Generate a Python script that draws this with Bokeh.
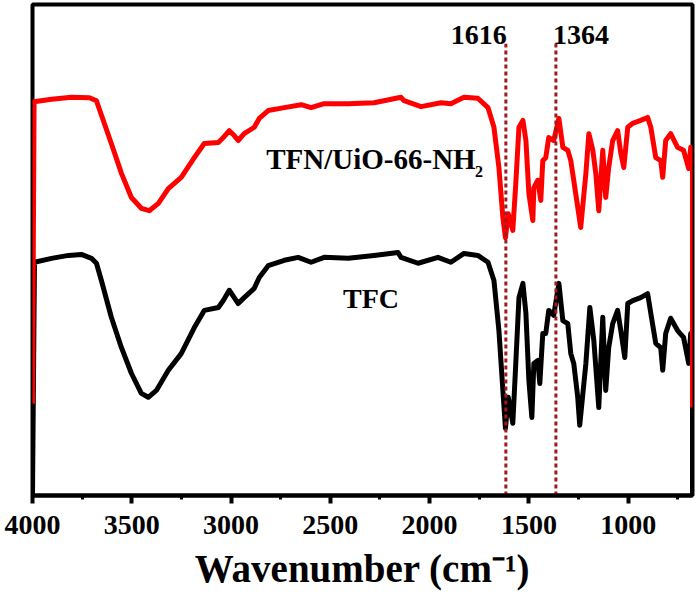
from bokeh.plotting import figure
from bokeh.models import Label, Range1d, FixedTicker
from bokeh.embed import file_html
from bokeh.resources import INLINE

# ---------------- data ----------------
wavenumber_tfn = [4000, 3992, 3904, 3804, 3713, 3678, 3603, 3552, 3502, 3452, 3412, 3366, 3316, 3251,
                  3185, 3135, 3064, 3039, 3009, 2984, 2964, 2934, 2883, 2858, 2813, 2732, 2647, 2597,
                  2531, 2410, 2280, 2144, 2129, 2043, 1943, 1893, 1827, 1757, 1706, 1676, 1651, 1631,
                  1618, 1604, 1581, 1566, 1550, 1530, 1515, 1500, 1480, 1475, 1455, 1440, 1430, 1415,
                  1400, 1375, 1349, 1329, 1304, 1289, 1274, 1254, 1239, 1213, 1198, 1178, 1163, 1148,
                  1128, 1113, 1098, 1078, 1053, 1037, 1022, 1002, 977, 937, 902, 886, 861, 836, 826,
                  811, 786, 751, 721, 695, 685, 676, 676]
transmittance_tfn = [18.7, 80.2, 80.7, 81.1, 81.0, 80.4, 71.7, 65.6, 60.7, 58.5, 58.0, 59.5, 62.5, 64.8,
                     68.8, 71.7, 71.9, 72.9, 74.3, 73.3, 72.3, 73.7, 75.0, 76.8, 78.4, 79.0, 79.6, 79.0,
                     79.8, 79.8, 80.0, 81.1, 80.4, 79.2, 80.0, 79.8, 81.1, 80.9, 79.0, 75.0, 66.8, 56.6,
                     52.5, 57.4, 54.0, 63.5, 75.0, 76.4, 72.3, 61.5, 56.0, 62.7, 64.2, 60.1, 68.2, 68.8,
                     72.9, 72.3, 76.8, 70.9, 70.3, 68.2, 64.2, 58.7, 54.6, 65.6, 73.7, 70.3, 65.6, 58.0,
                     70.3, 60.7, 66.8, 72.3, 74.3, 69.7, 66.8, 75.0, 75.8, 76.4, 77.0, 75.0, 68.8, 68.2, 64.8,
                     72.3, 73.7, 70.9, 70.3, 66.6, 70.9, 70.3, 17.9]

wavenumber_tfc = [4000, 3990, 3904, 3819, 3754, 3703, 3678, 3653, 3603, 3552, 3502, 3452, 3417, 3376,
                  3316, 3251, 3185, 3135, 3064, 3039, 3009, 2984, 2964, 2934, 2883, 2858, 2813, 2732,
                  2662, 2597, 2531, 2410, 2280, 2159, 2144, 2058, 1958, 1893, 1827, 1757, 1706, 1676,
                  1651, 1631, 1618, 1604, 1581, 1566, 1550, 1530, 1515, 1500, 1485, 1475, 1455, 1445,
                  1430, 1415, 1400, 1375, 1349, 1329, 1304, 1289, 1274, 1254, 1244, 1213, 1193, 1173,
                  1158, 1148, 1128, 1113, 1098, 1078, 1053, 1037, 1017, 1002, 977, 937, 902, 886, 861,
                  836, 826, 811, 786, 751, 721, 695, 685, 676, 676]
transmittance_tfc = [0, 47.5, 48.3, 48.9, 49.1, 48.3, 47.3, 43.8, 36.3, 30.1, 24.9, 20.8, 20.0, 21.4,
                     25.5, 28.9, 34.2, 37.7, 38.3, 39.7, 41.8, 40.3, 39.1, 40.3, 42.2, 44.4, 46.8, 47.9,
                     48.5, 47.5, 48.5, 48.3, 48.9, 49.5, 48.5, 47.3, 48.5, 47.5, 49.3, 48.9, 47.5, 43.8,
                     33.6, 21.4, 13.7, 20.0, 14.7, 26.9, 40.3, 43.2, 37.1, 23.4, 15.9, 26.9, 27.5, 22.8,
                     33.0, 33.0, 37.7, 36.7, 43.2, 35.6, 35.0, 28.9, 26.9, 20.0, 14.3, 26.9, 38.3, 31.6,
                     23.4, 17.9, 36.3, 21.4, 30.1, 35.0, 37.7, 33.6, 28.1, 39.1, 39.7, 40.3, 41.1, 37.1, 31.0,
                     30.1, 25.5, 33.0, 36.1, 33.6, 32.2, 26.9, 33.0, 32.2, 0]

peak_positions = [1616, 1364]
peak_labels = ["1616", "1364"]
peak_line_top = 92
x_ticks = [4000, 3500, 3000, 2500, 2000, 1500, 1000]
x_minor_ticks = [3750, 3250, 2750, 2250, 1750, 1250, 750]
x_title = "Wavenumber (cm\u207b\u00b9)"

FONT = "Liberation Serif"

p = figure(width=696, height=595, output_backend="svg", toolbar_location=None,
           x_range=Range1d(4000, 676), y_range=Range1d(0, 100),
           y_axis_location=None,
           min_border_left=32, min_border_right=4, min_border_top=4, min_border_bottom=100)
p.background_fill_color = "white"
p.border_fill_color = "white"
p.grid.visible = False
p.outline_line_color = "black"
p.outline_line_width = 4

ax = p.xaxis[0]
ax.ticker = FixedTicker(ticks=x_ticks, minor_ticks=x_minor_ticks)
ax.axis_line_width = 4
ax.axis_line_color = "black"
ax.major_tick_line_width = 4
ax.minor_tick_line_width = 3
ax.major_tick_in = 0
ax.major_tick_out = 8
ax.minor_tick_in = 0
ax.minor_tick_out = 4
ax.major_label_text_font = FONT
ax.major_label_text_font_style = "bold"
ax.major_label_text_font_size = "28px"
ax.major_label_text_color = "black"
ax.major_label_standoff = 12
ax.axis_label = x_title
ax.axis_label_text_font = FONT
ax.axis_label_text_font_style = "bold"
ax.axis_label_text_font_size = "39px"
ax.axis_label_text_color = "black"
ax.axis_label_standoff = 10

p.line(wavenumber_tfc, transmittance_tfc, line_color="black", line_width=5, line_join="round")
p.line(wavenumber_tfn, transmittance_tfn, line_color="#FF0000", line_width=5, line_join="round")

p.segment(x0=peak_positions, y0=0, x1=peak_positions, y1=peak_line_top,
          line_color="#9E1A1F", line_width=3, line_dash="4 3")

def lab(**kw):
    base = dict(text_font=FONT, text_font_style="bold", text_color="black",
                text_baseline="alphabetic")
    base.update(kw)
    p.add_layout(Label(**base))

# peak labels
lab(x=peak_positions[0], y=93.7, text=peak_labels[0], text_align="right", x_offset=1, text_font_size="28px")
lab(x=peak_positions[1], y=93.7, text=peak_labels[1], text_align="left", x_offset=-3, text_font_size="28px")

# series labels
lab(x=2823, y=68.6, text="TFN/UiO-66-NH", text_align="left", text_font_size="29px")
lab(x=1772, y=66.0, text="2", text_align="left", text_font_size="16px")
lab(x=2436, y=40.1, text="TFC", text_align="left", text_font_size="28px")

open("out.html", "w").write(file_html(p, INLINE))
